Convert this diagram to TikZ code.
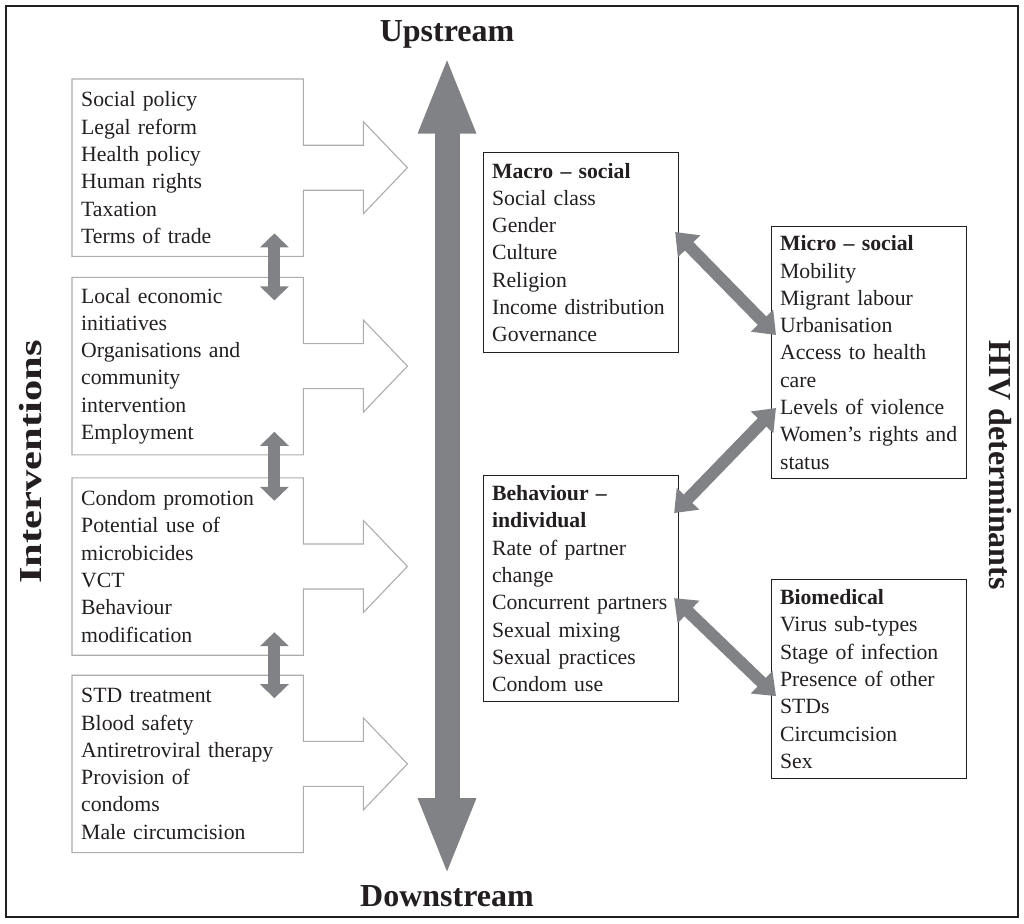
\documentclass[tikz,border=0pt]{standalone}
\usepackage{fontspec}
\setmainfont{Liberation Serif}
\usetikzlibrary{arrows.meta,calc,positioning}
\definecolor{shaftgray}{RGB}{128,130,133}
\definecolor{edgegray}{RGB}{172,172,172}
\definecolor{inkgray}{RGB}{35,31,32}

\begin{document}
\begin{tikzpicture}[x=1pt, y=-1pt,
  font          = \fontsize{21.75}{27.3}\selectfont,
  measure/.style = {rectangle, anchor=north west, text width=213pt, minimum height=177pt, inner xsep=9pt, inner ysep=0pt, align=left, text=inkgray},
  factor/.style  = {rectangle, draw=inkgray, line width=1.1pt, anchor=north west, text width=178pt, inner xsep=8.5pt, inner ysep=0pt, align=left, text=inkgray},
  outline/.style = {draw=edgegray, line width=1.1pt, line join=miter},
  link/.style    = {draw=shaftgray, line width=12pt, {Triangle[width=28pt,length=14pt]}-{Triangle[width=28pt,length=14pt]}},
  tie/.style     = {draw=shaftgray, line width=12pt, {Triangle[width=30pt,length=20pt]}-{Triangle[width=30pt,length=20pt]}},
  axis/.style    = {draw=shaftgray, line width=25pt, {Triangle[width=52pt,length=78pt]}-{Triangle[width=52pt,length=78pt]}},
  title/.style   = {font=\fontsize{32}{38}\selectfont\bfseries, text=inkgray, inner sep=0pt},
  ]
  \useasboundingbox (0,0) rectangle (1024,923);
  \draw[inkgray, line width=1.3pt] (6,6) rectangle (1018,917);
  % interventions
  \node[measure] (policy) at (72,79) {Social policy\\ Legal reform\\ Health policy\\ Human rights\\ Taxation\\ Terms of trade};
  \node[measure, below=21pt of policy] (economy) {Local economic\\ initiatives\\ Organisations and\\ community\\ intervention\\ Employment};
  \node[measure, below=23pt of economy] (practice) {Condom promotion\\ Potential use of\\ microbicides\\ VCT\\ Behaviour\\ modification};
  \node[measure, below=20pt of practice] (clinic) {STD treatment\\ Blood safety\\ Antiretroviral therapy\\ Provision of\\ condoms\\ Male circumcision};
  \foreach \b in {policy, economy, practice, clinic}
    \draw[outline] (\b.north west) -- (\b.north east) -- ($(\b.east)+(0,-22.5)$) -- ++(60,0) -- ++(0,-23.5)
      -- ++(44,46) -- ++(-44,46) -- ++(0,-23.5) -- ++(-60,0) -- (\b.south east) -- (\b.south west) -- cycle;
  \foreach \a/\b in {policy/economy, economy/practice, practice/clinic}
    \draw[link] ($(\a.south east)+(-29,-23)$) -- ($(\b.north east)+(-29,23)$);
  % determinants
  \node[factor, minimum height=200pt] (macro) at (483,152) {\textbf{Macro – social}\\ Social class\\ Gender\\ Culture\\ Religion\\ Income distribution\\ Governance};
  \node[factor, minimum height=226pt, below=122pt of macro] (person) {\textbf{Behaviour –}\\ \textbf{individual}\\ Rate of partner\\ change\\ Concurrent partners\\ Sexual mixing\\ Sexual practices\\ Condom use};
  \node[factor, minimum height=252pt] (micro) at (771,226) {\textbf{Micro – social}\\ Mobility\\ Migrant labour\\ Urbanisation\\ Access to health\\ care\\ Levels of violence\\ Women’s rights and\\ status};
  \node[factor, minimum height=199pt, below=100pt of micro] (bio) {\textbf{Biomedical}\\ Virus sub-types\\ Stage of infection\\ Presence of other\\ STDs\\ Circumcision\\ Sex};
  \draw[tie] ($(macro.north east)+(-4,80)$) -- ($(micro.north west)+(5,109)$);
  \draw[tie] ($(person.north east)+(-5,38)$) -- ($(micro.north west)+(5,182)$);
  \draw[tie] ($(person.north east)+(-5,123)$) -- ($(bio.north west)+(5,117)$);
  % labels
  \node[title] (up) at (447,34.5) {Upstream};
  \node[title] (down) at (447,896) {Downstream};
  \draw[axis, shorten <=7pt, shorten >=9pt] (up.south) -- (down.north);
  \node[title, rotate=90, xscale=1.33] (interv) at (31,462) {Interventions};
  \node[title, rotate=-90] (hiv) at (1000,465) {HIV determinants};
\end{tikzpicture}
\end{document}
